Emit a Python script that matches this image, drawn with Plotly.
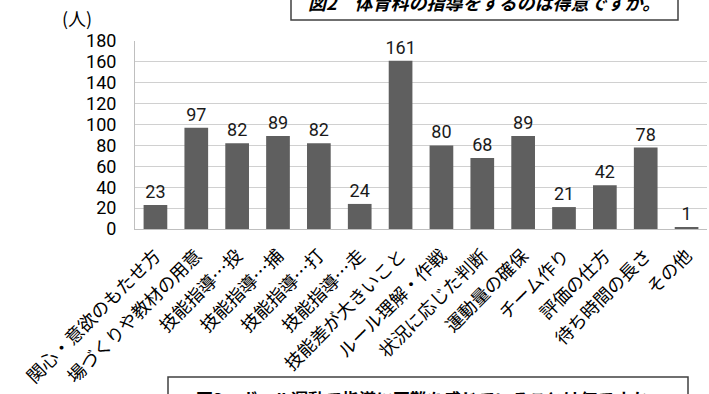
import plotly.graph_objects as go

categories = ["関心・意欲のもたせ方", "場づくりや教材の用意", "技能指導…投", "技能指導…捕",
              "技能指導…打", "技能指導…走", "技能差が大きいこと", "ルール理解・作戦",
              "状況に応じた判断", "運動量の確保", "チーム作り", "評価の仕方",
              "待ち時間の長さ", "その他"]
values = [23, 97, 82, 89, 82, 24, 161, 80, 68, 89, 21, 42, 78, 1]
y_ticks = [0, 20, 40, 60, 80, 100, 120, 140, 160, 180]

title_top = "図2　体育科の指導をするのは得意ですか。"
title_bottom = "図3　ボール運動で指導に困難を感じていることは何ですか"
unit_label = "(人)"

W, H = 709, 394
L, R, T, B = 135, 2, 41, 165
pw, ph = W - L - R, H - T - B

def px(x):
    return (x - L) / pw

def py(y):
    return (H - B - y) / ph

num_font = "Roboto, 'Noto Sans CJK JP', sans-serif"
jp_font = "'Noto Sans CJK JP', sans-serif"

fig = go.Figure()
fig.add_trace(go.Bar(
    x=categories, y=values,
    marker=dict(color="#5f5f5f", line=dict(width=0)),
    text=[str(v) for v in values], textposition="outside",
    textfont=dict(family=num_font, size=18, color="#1a1a1a"),
    constraintext="none",
    cliponaxis=False,
))

fig.update_layout(
    width=W, height=H,
    margin=dict(l=L, r=R, t=T, b=B, pad=0),
    paper_bgcolor="white", plot_bgcolor="white",
    bargap=0.42,
    showlegend=False,
    xaxis=dict(
        tickangle=-45,
        tickfont=dict(family=jp_font, size=18, color="#000000"),
        showgrid=False, showline=True, linecolor="#bfbfbf", linewidth=1,
        ticks="", fixedrange=True, ticklabelstandoff=8,
    ),
    yaxis=dict(
        range=[0, 180], tickvals=y_ticks,
        tickfont=dict(family=num_font, size=18, color="#000000"),
        showgrid=True, gridcolor="#d0d0d0", gridwidth=1,
        showline=True, linecolor="#bfbfbf", linewidth=1,
        zeroline=False, ticks="", ticklabelstandoff=14,
    ),
)

# unit label
fig.add_annotation(text=unit_label, xref="paper", yref="paper",
                   x=px(77), y=py(18), xanchor="center", yanchor="middle",
                   showarrow=False,
                   font=dict(family=jp_font, size=18, color="#000000"))

# top title box
fig.add_shape(type="rect", xref="paper", yref="paper",
              x0=px(291), x1=px(678), y0=py(20), y1=py(-20),
              line=dict(color="#404040", width=1.5), fillcolor="white", layer="above")
fig.add_annotation(text="<b><i>" + title_top + "</i></b>", xref="paper", yref="paper",
                   x=px(484), y=py(2), xanchor="center", yanchor="middle",
                   showarrow=False,
                   font=dict(family=jp_font, size=18, color="#000000"))

# bottom title box
fig.add_shape(type="rect", xref="paper", yref="paper",
              x0=px(168), x1=px(688), y0=py(377), y1=py(420),
              line=dict(color="#404040", width=1.5), fillcolor="white", layer="above")
fig.add_annotation(text="<b>" + title_bottom + "</b>", xref="paper", yref="paper",
                   x=px(422), y=py(398), xanchor="center", yanchor="middle",
                   showarrow=False,
                   font=dict(family=jp_font, size=17, color="#000000"))

fig.write_html("out.html")
